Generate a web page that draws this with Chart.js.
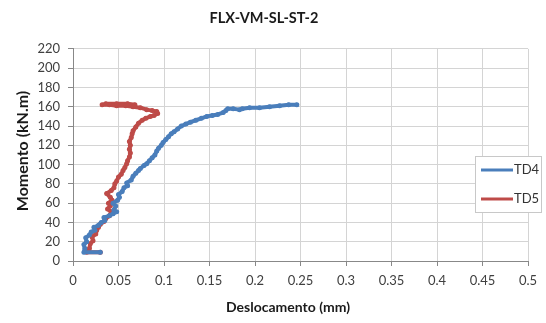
<!DOCTYPE html>
<html>
<head>
<meta charset="utf-8">
<script src="https://cdn.jsdelivr.net/npm/chart.js@4.4.1/dist/chart.umd.min.js"></script>
<style>
  html, body { margin: 0; padding: 0; background: #ffffff; }
  #wrap { width: 546px; height: 323px; position: relative; }
</style>
</head>
<body>
<div id="wrap"><canvas id="chart" width="546" height="323"></canvas></div>
<script>
// Moment vs. displacement readings for the two transducers
const td4Disp   = [0.030, 0.012, 0.013, 0.012, 0.015, 0.014, 0.018, 0.020, 0.024, 0.023, 0.028, 0.031, 0.035, 0.034, 0.040, 0.044, 0.048, 0.045, 0.047, 0.044, 0.049, 0.051, 0.050, 0.054, 0.056, 0.060, 0.059, 0.064, 0.066, 0.069, 0.072, 0.074, 0.078, 0.081, 0.084, 0.087, 0.090, 0.092, 0.094, 0.097, 0.099, 0.102, 0.105, 0.108, 0.111, 0.115, 0.119, 0.124, 0.129, 0.135, 0.141, 0.147, 0.153, 0.159, 0.165, 0.168, 0.170, 0.176, 0.183, 0.186, 0.194, 0.205, 0.216, 0.227, 0.237, 0.246];
const td4Moment = [9,     9,     13,    17,    20,    24,    27,    30,    32,    35,    37,    40,    42,    45,    47,    49,    51,    53,    57,    60,    63,    66,    69,    72,    76,    78,    81,    84,    88,    91,    94,    96,    99,    101,   104,   107,   110,   114,   117,   120,   123,   126,   129,   132,   134,   137,   140,   142,   144,   146,   148,   150,   151,   152,   154,   156,   158,   158,   157,   158,   159,   159,   160,   161,   162,   162];

const td5Disp   = [0.030, 0.015, 0.018, 0.019, 0.022, 0.021, 0.025, 0.026, 0.028, 0.030, 0.034, 0.036, 0.040, 0.042, 0.038, 0.041, 0.039, 0.043, 0.041, 0.037, 0.042, 0.045, 0.046, 0.048, 0.050, 0.053, 0.055, 0.057, 0.059, 0.060, 0.062, 0.063, 0.062, 0.063, 0.062, 0.064, 0.065, 0.066, 0.069, 0.072, 0.076, 0.080, 0.085, 0.089, 0.093, 0.092, 0.087, 0.081, 0.074, 0.066, 0.058, 0.048, 0.040, 0.032, 0.036, 0.048, 0.060, 0.068];
const td5Moment = [9,     9,     13,    18,    21,    25,    28,    32,    35,    38,    41,    44,    47,    51,    54,    57,    60,    63,    66,    70,    73,    76,    80,    83,    87,    90,    94,    97,    101,   104,   108,   112,   116,   120,   124,   128,   132,   135,   139,   143,   146,   148,   150,   151,   153,   155,   156,   157,   159,   160,   161,   161,   162,   162,   163,   163,   163,   162];

const seriesNames = ['TD4', 'TD5'];
const seriesColors = ['#4a7ebb', '#be4b48'];

const xTickLabels = ['0', '0.05', '0.1', '0.15', '0.2', '0.25', '0.3', '0.35', '0.4', '0.45', '0.5'];
const yTickLabels = ['0', '20', '40', '60', '80', '100', '120', '140', '160', '180', '200', '220'];

const chartTitle = 'FLX-VM-SL-ST-2';
const xAxisTitle = 'Deslocamento (mm)';
const yAxisTitle = 'Momento (kN.m)';

const pairs = (xs, ys) => xs.map((x, i) => ({ x: x, y: ys[i] }));

const FONT = 'Lato, "Liberation Sans", Arial, sans-serif';

// Axis titles and a boxed legend at the right of the plot
const decorations = {
  id: 'decorations',
  afterDraw(chart) {
    const ctx = chart.ctx;
    ctx.save();

    ctx.fillStyle = '#1a1a1a';
    ctx.textAlign = 'center';
    ctx.textBaseline = 'middle';
    ctx.font = 'bold 14px ' + FONT;
    ctx.fillText(xAxisTitle, 288, 307);

    ctx.save();
    ctx.translate(23, 151);
    ctx.rotate(-Math.PI / 2);
    ctx.font = 'bold 16px ' + FONT;
    ctx.fillText(yAxisTitle, 0, 0);
    ctx.restore();

    const bx = 475, by = 156, bw = 66, bh = 56;
    ctx.fillStyle = '#ffffff';
    ctx.fillRect(bx, by, bw, bh);
    ctx.strokeStyle = '#c8c8c8';
    ctx.lineWidth = 1;
    ctx.strokeRect(bx + 0.5, by + 0.5, bw, bh);
    chart.data.datasets.forEach((ds, i) => {
      const yy = by + 14 + i * 29;
      ctx.strokeStyle = ds.borderColor;
      ctx.lineWidth = 3;
      ctx.beginPath();
      ctx.moveTo(bx + 6, yy);
      ctx.lineTo(bx + 38, yy);
      ctx.stroke();
      ctx.fillStyle = '#333333';
      ctx.font = '13px ' + FONT;
      ctx.textBaseline = 'middle';
      ctx.textAlign = 'left';
      ctx.fillText(ds.label, bx + 39, yy);
    });
    ctx.restore();
  }
};

const makeSet = (i, xs, ys) => ({
  label: seriesNames[i],
  data: pairs(xs, ys),
  borderColor: seriesColors[i],
  backgroundColor: seriesColors[i],
  borderWidth: 4,
  borderJoinStyle: 'round',
  borderCapStyle: 'round',
  pointRadius: 2.5,
  pointBorderWidth: 0,
  tension: 0,
  fill: false
});

new Chart(document.getElementById('chart'), {
  type: 'line',
  data: {
    datasets: [
      makeSet(0, td4Disp, td4Moment),
      makeSet(1, td5Disp, td5Moment)
    ]
  },
  options: {
    responsive: false,
    animation: false,
    layout: { padding: { left: 0, right: 18, top: 0, bottom: 0 } },
    plugins: {
      legend: { display: false },
      tooltip: { enabled: false },
      title: {
        display: true,
        text: chartTitle,
        color: '#1a1a1a',
        font: { family: FONT, size: 14.5, weight: 'bold' },
        padding: { top: 9.5, bottom: 22 }
      }
    },
    scales: {
      x: {
        type: 'linear',
        min: 0,
        max: 0.5,
        afterFit(scale) { scale.height = 62; },
        ticks: {
          stepSize: 0.05,
          color: '#404040',
          font: { family: FONT, size: 13 },
          padding: 7,
          maxRotation: 0,
          callback: (v, i) => xTickLabels[i]
        },
        grid: { color: '#d4d4d4', tickLength: 5, tickColor: '#888888' },
        border: { color: '#888888' }
      },
      y: {
        type: 'linear',
        min: 0,
        max: 220,
        afterFit(scale) { scale.width = 73; },
        ticks: {
          stepSize: 20,
          color: '#404040',
          font: { family: FONT, size: 13 },
          padding: 8,
          callback: (v, i) => yTickLabels[i]
        },
        grid: { color: '#d4d4d4', tickLength: 5, tickColor: '#888888' },
        border: { color: '#888888' }
      }
    }
  },
  plugins: [decorations]
});
</script>
</body>
</html>
